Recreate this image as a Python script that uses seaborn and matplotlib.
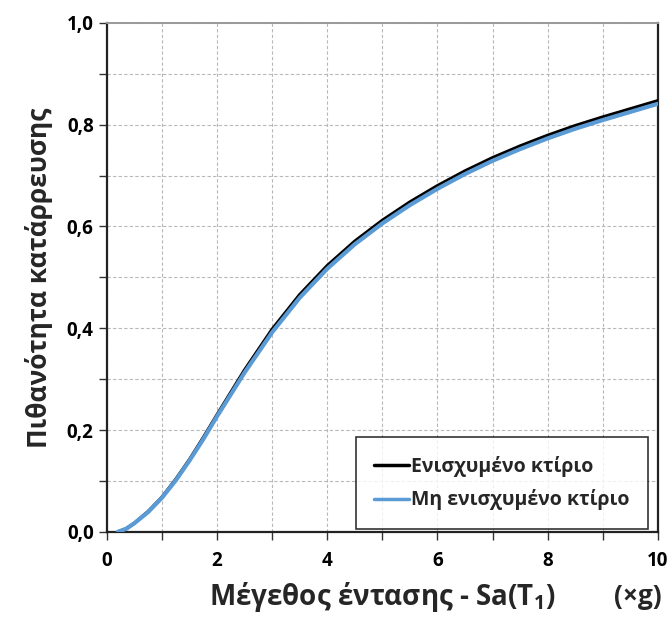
import numpy as np
import pandas as pd
import matplotlib
matplotlib.use("Agg")
import matplotlib.pyplot as plt
import seaborn as sns
from matplotlib.ticker import MultipleLocator, FuncFormatter

# values
sa = [0.2, 0.35, 0.5, 0.75, 1.0, 1.25, 1.5, 1.75, 2.0, 2.5, 3.0, 3.5, 4.0, 4.5, 5.0,
      5.5, 6.0, 6.5, 7.0, 7.5, 8.0, 8.5, 9.0, 9.5, 10.0]
p_strengthened = [0.0, 0.006, 0.017, 0.040, 0.068, 0.103, 0.142, 0.185, 0.230, 0.318, 0.398,
                  0.466, 0.523, 0.571, 0.612, 0.648, 0.680, 0.709, 0.735, 0.758, 0.779,
                  0.798, 0.815, 0.831, 0.847]
p_original = [0.0, 0.006, 0.017, 0.039, 0.067, 0.101, 0.140, 0.182, 0.227, 0.313, 0.392,
              0.460, 0.517, 0.565, 0.606, 0.642, 0.674, 0.703, 0.729, 0.752, 0.773,
              0.792, 0.809, 0.825, 0.841]
labels = ["Ενισχυμένο κτίριο", "Μη ενισχυμένο κτίριο"]
colors = ["#000000", "#5B9BD5"]

df = pd.DataFrame({
    "Sa": sa * 2,
    "P": p_strengthened + p_original,
    "building": [labels[0]] * len(sa) + [labels[1]] * len(sa),
})

sns.set_style("ticks")
plt.rcParams["font.family"] = ["Open Sans", "DejaVu Sans"]
plt.rcParams["font.weight"] = "bold"
plt.rcParams["mathtext.default"] = "regular"

fig = plt.figure(figsize=(6.72, 6.17), dpi=100)
ax = fig.add_axes([0.159, 0.138, 0.820, 0.825])

ax.grid(True, which="both", color="#b8b8b8", linestyle=(0, (3, 2)), linewidth=0.8)
sns.lineplot(data=df, x="Sa", y="P", hue="building", palette=colors,
             linewidth=2.3, ax=ax, zorder=3)
for line, lw in zip(ax.lines, [2.4, 3.0]):
    line.set_linewidth(lw)
    line.set_solid_joinstyle("round")

ax.set_xlim(0, 10)
ax.set_ylim(0, 1.0)
ax.xaxis.set_major_locator(MultipleLocator(2))
ax.xaxis.set_minor_locator(MultipleLocator(1))
ax.yaxis.set_major_locator(MultipleLocator(0.2))
ax.yaxis.set_minor_locator(MultipleLocator(0.1))
ax.yaxis.set_major_formatter(FuncFormatter(lambda v, pos: f"{v:.1f}".replace(".", ",")))
ax.tick_params(which="both", direction="out", length=6, width=1, colors="#333333",
               labelcolor="black", labelsize=13.5)
for lab in ax.get_xticklabels() + ax.get_yticklabels():
    lab.set_fontweight("bold")
ax.tick_params(axis="x", pad=8)

for side in ["left", "bottom", "right"]:
    ax.spines[side].set_color("#222222")
    ax.spines[side].set_linewidth(1.6)
ax.spines["top"].set_color("#999999")
ax.spines["top"].set_linewidth(1.4)

ax.set_ylabel("Πιθανότητα κατάρρευσης", fontsize=19, fontweight="bold", labelpad=10)
ax.set_xlabel(r"Μέγεθος έντασης - Sa(T$_{1}$)", fontsize=20, fontweight="bold", labelpad=6)
ax.text(0.963, -0.127, "(×g)", transform=ax.transAxes, fontsize=19, fontweight="bold",
        ha="center", va="center")

leg = ax.legend(loc="lower right", bbox_to_anchor=(0.988, 0.0), fontsize=14,
                frameon=True, fancybox=False, edgecolor="black", handlelength=1.8,
                handletextpad=0.1, borderpad=0.95, labelspacing=0.65, borderaxespad=0.15)
leg.get_frame().set_linewidth(1.2)
for t in leg.get_texts():
    t.set_fontweight("bold")
for h in leg.get_lines():
    h.set_linewidth(2.5)
leg.set_zorder(5)

fig.savefig("out.png", dpi=100)
